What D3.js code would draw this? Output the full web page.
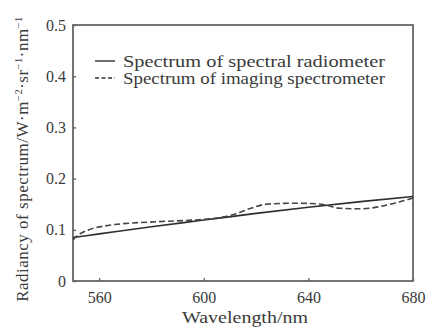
<!DOCTYPE html>
<html>
<head>
<meta charset="utf-8">
<script src="https://cdn.jsdelivr.net/npm/d3@7"></script>
<style>
  body { margin: 0; background: #fff; }
  text { font-family: "Liberation Serif", "DejaVu Serif", serif; fill: #3a3a3a; }
</style>
</head>
<body>
<svg id="chart" width="430" height="329"></svg>
<script>
// values
const radiometerWl = [550, 560, 580, 600, 620, 640, 660, 680];
const radiometerVal = [0.085, 0.092, 0.106, 0.119, 0.132, 0.144, 0.155, 0.165];

const imagingWl = [550, 552, 564, 583, 596, 605, 612, 618, 624, 635, 645, 652, 660, 673, 680];
const imagingVal = [0.080, 0.090, 0.109, 0.116, 0.119, 0.123, 0.131, 0.142, 0.150, 0.152, 0.150, 0.142, 0.141, 0.152, 0.162];

const xTicks = [560, 600, 640, 680];
const yTicks = [0, 0.1, 0.2, 0.3, 0.4, 0.5];
const legendLabels = ["Spectrum of spectral radiometer", "Spectrum of imaging spectrometer"];

const margin = { top: 25, right: 17, bottom: 48, left: 73 };
const width = 430 - margin.left - margin.right;
const height = 329 - margin.top - margin.bottom;

const svg = d3.select("#chart");
const g = svg.append("g").attr("transform", `translate(${margin.left},${margin.top})`);

const x = d3.scaleLinear().domain([550, 680]).range([0, width]);
const y = d3.scaleLinear().domain([0, 0.5]).range([height, 0]);

// frame
g.append("rect")
  .attr("width", width)
  .attr("height", height)
  .attr("fill", "none")
  .attr("stroke", "#666")
  .attr("stroke-width", 1.8);

// axes, ticks point inward
const xAxis = g.append("g")
  .attr("transform", `translate(0,${height})`)
  .call(d3.axisBottom(x).tickValues(xTicks).tickSize(-3).tickPadding(11).tickFormat(d3.format("d")));
const yAxis = g.append("g")
  .call(d3.axisLeft(y).tickValues(yTicks).tickSize(-3).tickPadding(7).tickFormat(d => d === 0 ? "0" : d3.format(".1f")(d)));

[xAxis, yAxis].forEach(a => {
  a.select(".domain").remove();
  a.selectAll(".tick line").attr("stroke", "#666").attr("stroke-width", 1.4);
  a.selectAll(".tick text")
    .attr("font-size", 16)
    .attr("font-family", "Liberation Serif, serif")
    .attr("fill", "#3a3a3a");
});

const line = d3.line().x(d => x(d[0])).y(d => y(d[1])).curve(d3.curveMonotoneX);

g.append("path")
  .datum(d3.zip(radiometerWl, radiometerVal))
  .attr("d", line)
  .attr("fill", "none")
  .attr("stroke", "#2e2e2e")
  .attr("stroke-width", 1.6);

g.append("path")
  .datum(d3.zip(imagingWl, imagingVal))
  .attr("d", line)
  .attr("fill", "none")
  .attr("stroke", "#444")
  .attr("stroke-width", 1.6)
  .attr("stroke-dasharray", "6,3");

// legend
const legend = g.append("g").attr("transform", "translate(22,36)");
legendLabels.forEach((lab, i) => {
  const row = legend.append("g").attr("transform", `translate(0,${i * 17})`);
  row.append("line")
    .attr("x1", 0).attr("x2", 20)
    .attr("stroke", "#333")
    .attr("stroke-width", 1.4)
    .attr("stroke-dasharray", i === 0 ? null : "4,2.5");
  row.append("text")
    .attr("x", 28)
    .attr("dy", "0.35em")
    .attr("font-size", 16)
    .attr("textLength", 262)
    .attr("lengthAdjust", "spacingAndGlyphs")
    .text(lab);
});

// axis titles
svg.append("text")
  .attr("x", 245)
  .attr("y", 323)
  .attr("text-anchor", "middle")
  .attr("font-size", 17)
  .attr("textLength", 126)
  .attr("lengthAdjust", "spacingAndGlyphs")
  .text("Wavelength/nm");

const yt = svg.append("text")
  .attr("transform", "translate(28,159) rotate(-90)")
  .attr("text-anchor", "middle")
  .attr("font-size", 17)
  .attr("letter-spacing", 0.5);
yt.append("tspan").text("Radiancy of spectrum/W·m");
yt.append("tspan").attr("dy", -6).attr("font-size", 10.5).text("−2");
yt.append("tspan").attr("dy", 6).text("·sr");
yt.append("tspan").attr("dy", -6).attr("font-size", 10.5).text("−1");
yt.append("tspan").attr("dy", 6).text("·nm");
yt.append("tspan").attr("dy", -6).attr("font-size", 10.5).text("−1");
</script>
</body>
</html>
